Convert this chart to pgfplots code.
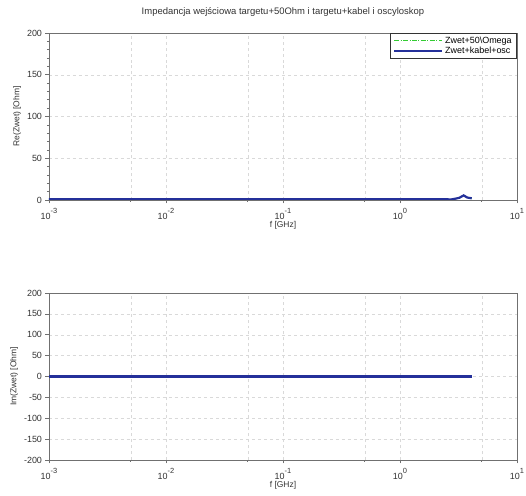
\documentclass[border=0pt]{standalone}
\usepackage{pgfplots}
\pgfplotsset{compat=1.18}
\usepackage{fontspec}
\setmainfont{Liberation Sans}
\definecolor{zblue}{HTML}{24309A}
\definecolor{zgreen}{HTML}{33CC33}
\definecolor{axgray}{HTML}{707070}

\newcommand{\tpow}[1]{10\raisebox{1.15ex}{\fontsize{7.5}{8}\selectfont #1}}

\pgfplotsset{
  scilab/.style={
    scale only axis,
    width=468bp, height=167bp,
    xmin=1e-3, xmax=10,
    xtick={1e-3,1e-2,1e-1,1,10},
    xticklabels={\tpow{-3},\tpow{-2},\tpow{-1},\tpow{0},\tpow{1}},
    minor xtick={0.005,0.05,0.5,5},
    xmajorgrids, xminorgrids, ymajorgrids,
    grid style={dash pattern=on 3pt off 3pt, gray!30},
    minor grid style={dash pattern=on 3pt off 3pt, gray!30},
    axis line style={axgray, line width=0.9pt},
    tick style={axgray, line width=0.6pt},
    tick align=outside, xtick pos=bottom, ytick pos=left,
    major tick length=3.5bp, minor tick length=2bp,
    tick label style={font=\fontsize{9}{10}\selectfont, text=black!80},
    xticklabel style={yshift=-1.5bp},
    label style={font=\fontsize{8.5}{9}\selectfont, text=black!80},
    /pgf/number format/assume math mode=true,
    xlabel={f [GHz]},
    xlabel style={yshift=5bp},
    ylabel style={yshift=-1bp},
  }
}

\begin{document}
\begin{tikzpicture}
\path[use as bounding box] (0,0) rectangle (526bp,496bp);
\node[font=\fontsize{9.5}{10}\selectfont, text=black!80] at (283bp,484bp) {Impedancja wejściowa targetu+50Ohm i targetu+kabel i oscyloskop};

\begin{semilogxaxis}[scilab, at={(49bp,296bp)}, anchor=south west,
  ymin=0, ymax=200, ytick={0,50,100,150,200},
  minor y tick num=4,
  ylabel={Re(Zwet) [Ohm]},
  legend style={at={(1,1)}, anchor=north east, draw=black!80, line width=0.6pt,
    font=\fontsize{9}{10}\selectfont, inner xsep=3bp, inner ysep=1.5bp, row sep=-1.5bp, fill=white},
  legend cell align=left,
  legend image code/.code={\draw[#1] (0bp,0bp) -- (48bp,0bp);},
]
\addplot[zgreen, line width=1pt, dash pattern=on 5pt off 1.5pt on 1pt off 1.5pt] coordinates {
  (0.001,1) (0.01,1) (0.1,1) (1,1) (2.5,1) (2.7,0.5) (2.95,1.5) (3.2,2.5) (3.5,5.5) (3.75,3) (4.1,2)
};
\addlegendentry{Zwet+50\textbackslash Omega}
\addplot[zblue, line width=2.2pt] coordinates {
  (0.001,1) (0.01,1) (0.1,1) (1,1) (2.5,1) (2.7,0.5) (2.95,1.5) (3.2,2.5) (3.5,5.5) (3.75,3) (4.1,2)
};
\addlegendentry{Zwet+kabel+osc}
\end{semilogxaxis}

\begin{semilogxaxis}[scilab, at={(49bp,36bp)}, anchor=south west,
  ymin=-200, ymax=200, ytick={-200,-150,...,200},
  ylabel={Im(Zwet) [Ohm]},
]
\addplot[zgreen, line width=1pt, dash pattern=on 5pt off 1.5pt on 1pt off 1.5pt] coordinates {
  (0.001,0) (0.01,0) (0.1,0) (1,0) (4.1,0)
};
\addplot[zblue, line width=2.2pt] coordinates {
  (0.001,0) (0.01,0) (0.1,0) (1,0) (4.1,0)
};
\end{semilogxaxis}
\end{tikzpicture}
\end{document}
